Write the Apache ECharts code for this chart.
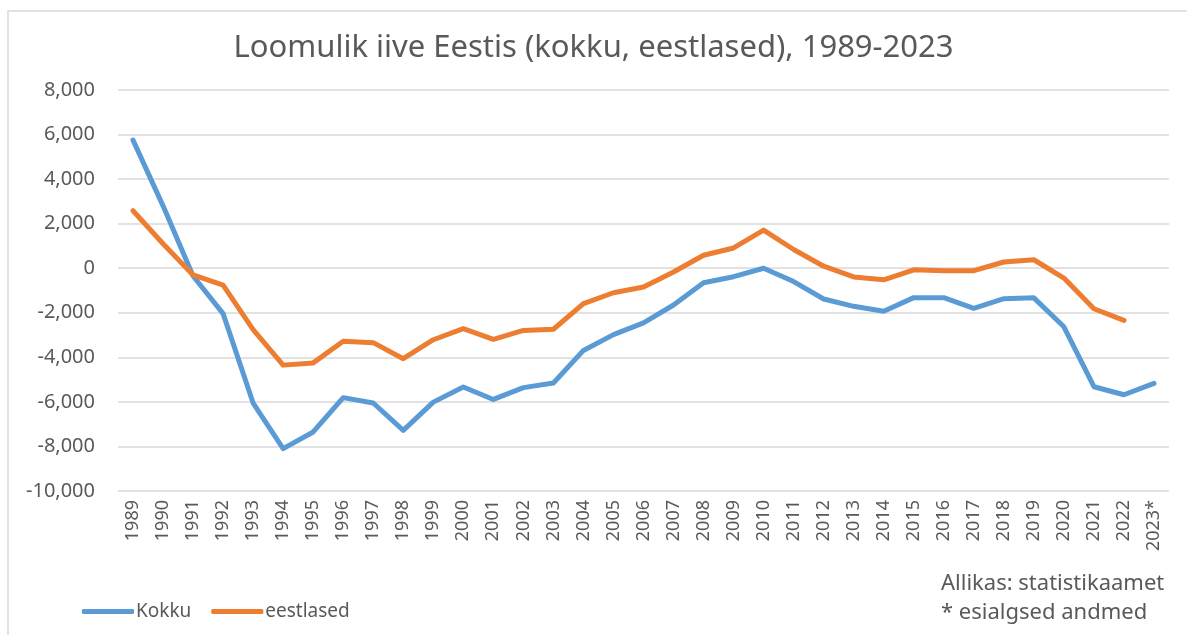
<!DOCTYPE html>
<html>
<head>
<meta charset="utf-8">
<script src="https://cdn.jsdelivr.net/npm/echarts@6/dist/echarts.min.js"></script>
<style>html,body{margin:0;padding:0;background:#fff;}#c{width:1187px;height:635px;}</style>
</head>
<body>
<div id="c"></div>
<script>
var years = ['1989','1990','1991','1992','1993','1994','1995','1996','1997','1998','1999','2000','2001','2002','2003','2004','2005','2006','2007','2008','2009','2010','2011','2012','2013','2014','2015','2016','2017','2018','2019','2020','2021','2022','2023*'];
var kokku = [5750,2800,-350,-2040,-6050,-8100,-7350,-5810,-6050,-7280,-6010,-5330,-5890,-5360,-5150,-3690,-2980,-2450,-1650,-650,-380,0,-600,-1380,-1710,-1930,-1320,-1320,-1800,-1370,-1330,-2630,-5320,-5680,-5170];
var eestlased = [2580,1100,-300,-760,-2760,-4350,-4250,-3280,-3340,-4060,-3210,-2710,-3190,-2790,-2740,-1590,-1100,-840,-170,580,910,1710,840,90,-390,-520,-70,-110,-110,280,380,-440,-1820,-2340,null];
var yTicks = {min:-10000, max:8000, interval:2000};
var titleText = 'Loomulik iive Eestis (kokku, eestlased), 1989-2023';
var sourceLines = ['Allikas: statistikaamet', '* esialgsed andmed'];

var font = '"Noto Sans", "Open Sans", sans-serif';
var chart = echarts.init(document.getElementById('c'));
chart.setOption({
  animation: false,
  backgroundColor: '#fff',
  title: {
    text: titleText, left: 'center', top: 28,
    textStyle: {fontFamily: font, fontSize: 31, fontWeight: 'normal', color: '#595959'}
  },
  grid: {left: 118, right: 18, top: 90, bottom: 144, containLabel: false},
  legend: {
    left: 77, top: 597,
    icon: 'roundRect', itemWidth: 52, itemHeight: 5, itemGap: 20,
    textStyle: {fontFamily: font, fontSize: 19, color: '#595959', padding: [0, 0, 0, -3]},
    data: ['Kokku', 'eestlased']
  },
  xAxis: {
    type: 'category', data: years, boundaryGap: true,
    axisLine: {show: false}, axisTick: {show: false},
    axisLabel: {rotate: 90, interval: 0, margin: 9, fontFamily: font, fontSize: 18, color: '#595959'}
  },
  yAxis: {
    type: 'value', min: yTicks.min, max: yTicks.max, interval: yTicks.interval,
    axisLine: {show: false}, axisTick: {show: false},
    axisLabel: {margin: 23, fontFamily: font, fontSize: 20, color: '#595959',
      formatter: function (v) { return echarts.format.addCommas(v); }},
    splitLine: {lineStyle: {color: '#d9d9d9', width: 1.5}}
  },
  graphic: [
    {type: 'rect', shape: {x: 8, y: 11, width: 1300, height: 800}, style: {fill: 'none', stroke: '#d9d9d9', lineWidth: 1.5}, silent: true},
    {type: 'text', left: 941, top: 573, style: {text: sourceLines[0], font: '22px ' + font, fill: '#595959'}},
    {type: 'text', left: 941, top: 602, style: {text: sourceLines[1], font: '22px ' + font, fill: '#595959'}}
  ],
  series: [
    {name: 'Kokku', type: 'line', data: kokku, symbol: 'none', lineStyle: {width: 5, color: '#5B9BD5', cap: 'round', join: 'round'}, itemStyle: {color: '#5B9BD5'}},
    {name: 'eestlased', type: 'line', data: eestlased, symbol: 'none', lineStyle: {width: 5, color: '#ED7D31', cap: 'round', join: 'round'}, itemStyle: {color: '#ED7D31'}}
  ]
});
</script>
</body>
</html>
